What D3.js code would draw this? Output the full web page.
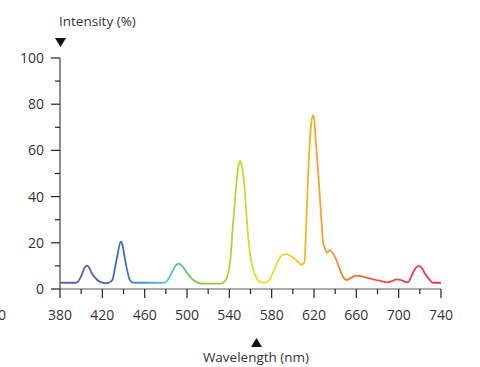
<!DOCTYPE html>
<html><head><meta charset="utf-8">
<script src="https://cdn.jsdelivr.net/npm/d3@7"></script>
<style>body{margin:0;background:#fff}svg{display:block}text{font-family:"Open Sans",sans-serif;fill:#333}</style>
</head><body><svg id="c" width="480" height="367"></svg>
<script>
const wavelengths = [380,395,400,403,405,407,410,415,420,424,428,430,431.5,434,437.5,439,441,444,446,449,460,479,485,489,492,495,500,505,510,514,532,536,539,541,543,546,548.5,550,551.5,553.5,555,557,559,562,566,570,574,578,582,586,590,594,598,603,608,611,612,614.5,617,619,620,622,624,627,628.5,630,632.5,635,637,640,644,648,651,655,659,664,670,678,684,689,694,698,702,706,709,711,714,719,722,725,729,732,740];
const intensity = [2.7,2.7,5.5,9,10.1,9.6,6.8,4,2.8,2.5,3.2,4.5,8,14,20.5,19,14,7,3.9,2.8,2.7,2.7,6.5,10,11,10.2,7,4.3,2.8,2.3,2.3,3.5,7,13,25,42,53,55.5,54,48,40,27,17,9.5,4.5,2.9,2.7,4,8,12.2,14.6,15.1,14.3,12.6,10.5,11.6,20,50,70,75.3,74,62,50,30,20.5,18,15.7,16.9,16,13.8,9,4.8,3.9,4.8,5.8,5.6,4.9,4,3.4,2.9,3.4,4.2,3.9,3.1,2.9,4.5,7.5,10,9,6.5,4.2,2.8,2.7];
const xTicks = [380,420,460,500,540,580,620,660,700,740];
const xMinor = [400,440,480,520,560,600,640,680,720];
const yTicks = [0,20,40,60,80,100];
const yMinor = [10,30,50,70,90];
const colorStops = [[380,"#7a55aa"],[400,"#6656b0"],[420,"#4a62b6"],[440,"#3a6cc0"],[465,"#4ea4d6"],[480,"#5ccbdc"],[490,"#52c39a"],[505,"#78c24c"],[525,"#92c83c"],[545,"#b8d530"],[560,"#d8dc2a"],[575,"#f2e022"],[595,"#f8cf20"],[612,"#f6b81a"],[622,"#f5a623"],[640,"#f48f32"],[660,"#f2693a"],[690,"#ef4a42"],[715,"#ea3650"],[740,"#e8334f"]];

const svg = d3.select("#c");
const x = d3.scaleLinear().domain([380,740]).range([60,441]);
const y = d3.scaleLinear().domain([0,100]).range([289,58]);

const defs = svg.append("defs");
const grad = defs.append("linearGradient").attr("id","spec").attr("gradientUnits","userSpaceOnUse")
  .attr("x1",x(380)).attr("x2",x(740)).attr("y1",0).attr("y2",0);
colorStops.forEach(s=>grad.append("stop").attr("offset",(x(s[0])-x(380))/(x(740)-x(380))).attr("stop-color",s[1]));

const gx = svg.append("g");
gx.append("line").attr("x1",x(380)).attr("x2",x(740)).attr("y1",289).attr("y2",289).attr("stroke","#aaa").attr("stroke-width",2);
gx.selectAll(".mj").data(xTicks).join("line").attr("x1",d=>x(d)).attr("x2",d=>x(d)).attr("y1",289).attr("y2",298).attr("stroke","#222").attr("stroke-width",1.2);
gx.selectAll(".mn").data(xMinor).join("line").attr("x1",d=>x(d)).attr("x2",d=>x(d)).attr("y1",289).attr("y2",294).attr("stroke","#222").attr("stroke-width",1.2);
gx.selectAll("text").data(xTicks).join("text").attr("x",d=>x(d)).attr("y",320).attr("text-anchor","middle").attr("font-size",14).text(d=>d);
svg.append("text").attr("x",2).attr("y",320).attr("text-anchor","middle").attr("font-size",14).text("0");

const gy = svg.append("g");
gy.append("line").attr("x1",60).attr("x2",60).attr("y1",y(100)).attr("y2",y(0)).attr("stroke","#444").attr("stroke-width",1.2);
gy.selectAll(".mj").data(yTicks).join("line").attr("x1",51).attr("x2",60).attr("y1",d=>y(d)).attr("y2",d=>y(d)).attr("stroke","#222").attr("stroke-width",1.2);
gy.selectAll(".mn").data(yMinor).join("line").attr("x1",55).attr("x2",60).attr("y1",d=>y(d)).attr("y2",d=>y(d)).attr("stroke","#222").attr("stroke-width",1.2);
gy.selectAll("text").data(yTicks).join("text").attr("x",44).attr("y",d=>y(d)+5).attr("text-anchor","end").attr("font-size",14).text(d=>d);

svg.append("text").attr("x",59).attr("y",26).attr("font-size",13.5).text("Intensity (%)");
svg.append("path").attr("d","M55,38 L66,38 L60.5,47 Z").attr("fill","#111");
svg.append("path").attr("d","M251,347 L262,347 L256.5,338 Z").attr("fill","#111");
svg.append("text").attr("x",256).attr("y",362).attr("text-anchor","middle").attr("font-size",13.5).text("Wavelength (nm)");

const data = wavelengths.map((w,i)=>[w,intensity[i]]);
svg.append("path").datum(data).attr("fill","none").attr("stroke","url(#spec)").attr("stroke-width",1.8)
  .attr("stroke-linejoin","round")
  .attr("d",d3.line().x(d=>x(d[0])).y(d=>y(d[1])).curve(d3.curveMonotoneX));
</script></body></html>
